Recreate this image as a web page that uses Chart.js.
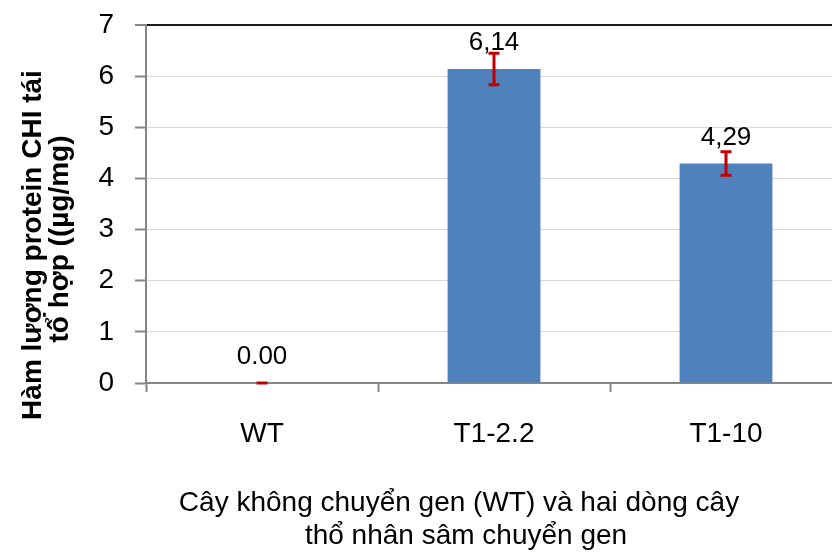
<!DOCTYPE html>
<html lang="vi">
<head>
  <meta charset="UTF-8">
  <title>Hàm lượng protein CHI tái tổ hợp</title>
  <script src="https://cdn.jsdelivr.net/npm/chart.js"></script>
  <style>
    html, body {
      margin: 0;
      padding: 0;
      background: #fff;
      overflow: hidden;
    }
    canvas {
      display: block;
    }
  </style>
</head>
<body>
  <canvas id="proteinChart" width="850" height="554"></canvas>

  <script>
    // values
    const categories = ['WT', 'T1-2.2', 'T1-10'];
    const proteinValues = [0, 6.14, 4.29];
    const errorValues = [0, 0.31, 0.23];
    const valueLabels = ['0.00', '6,14', '4,29'];
    const yTicks = [0, 1, 2, 3, 4, 5, 6, 7];
    const xTitleLines = ['Cây không chuyển gen (WT) và hai dòng cây', 'thổ nhân sâm chuyển gen'];
    const yTitleLines = ['Hàm lượng protein CHI tái', 'tổ hợp ((µg/mg)'];

    const FONT = "'Liberation Sans', Arial, sans-serif";
    const AXIS_GRAY = '#868686';

    // error bars + value labels on top of the bars
    const errorBarPlugin = {
      id: 'errorBars',
      afterDatasetsDraw(chart) {
        const ctx = chart.ctx;
        const yScale = chart.scales.y;
        const meta = chart.getDatasetMeta(0);
        ctx.save();
        meta.data.forEach((bar, i) => {
          const v = proteinValues[i];
          const e = errorValues[i];
          const x = bar.x;
          const yTop = yScale.getPixelForValue(v + e);
          const yBot = yScale.getPixelForValue(v - e);
          ctx.strokeStyle = '#C00000';
          ctx.lineWidth = 3;
          ctx.beginPath();
          if (e > 0) {
            ctx.moveTo(x, yTop);
            ctx.lineTo(x, yBot);
          }
          ctx.moveTo(x - 5.5, yTop);
          ctx.lineTo(x + 5.5, yTop);
          ctx.moveTo(x - 5.5, yBot);
          ctx.lineTo(x + 5.5, yBot);
          ctx.stroke();

          ctx.fillStyle = '#000';
          ctx.font = '26px ' + FONT;
          ctx.textAlign = 'center';
          ctx.textBaseline = 'middle';
          ctx.fillText(valueLabels[i], x, yScale.getPixelForValue(v) - 26);
        });
        ctx.restore();
      }
    };

    // axis titles, placed like the original (not centred on the plot)
    const axisTitlePlugin = {
      id: 'axisTitles',
      afterDraw(chart) {
        const ctx = chart.ctx;
        ctx.save();
        ctx.fillStyle = '#000';
        ctx.textAlign = 'center';
        ctx.textBaseline = 'middle';

        ctx.font = '28px ' + FONT;
        ctx.fillText(xTitleLines[0], 459, 503);
        ctx.fillText(xTitleLines[1], 466, 536);

        ctx.font = 'bold 28px ' + FONT;
        ctx.translate(33, 245);
        ctx.rotate(-Math.PI / 2);
        ctx.fillText(yTitleLines[0], 0, 0);
        ctx.fillText(yTitleLines[1], 6, 27);
        ctx.restore();
      }
    };

    const ctx = document.getElementById('proteinChart').getContext('2d');
    new Chart(ctx, {
      type: 'bar',
      data: {
        labels: categories,
        datasets: [{
          data: proteinValues,
          backgroundColor: '#4F81BD',
          borderWidth: 0,
          barPercentage: 0.4,
          categoryPercentage: 1.0
        }]
      },
      plugins: [errorBarPlugin, axisTitlePlugin],
      options: {
        responsive: false,
        animation: false,
        devicePixelRatio: 1,
        layout: {
          padding: { left: 0, right: 8, top: 25, bottom: 0 }
        },
        plugins: {
          legend: { display: false },
          tooltip: { enabled: false }
        },
        scales: {
          x: {
            afterFit(scale) {
              scale.height = 171;
              scale.paddingLeft = 0;
              scale.paddingRight = 0;
            },
            grid: {
              offset: true,
              drawOnChartArea: false,
              tickLength: 9,
              tickColor: AXIS_GRAY,
              tickWidth: 2
            },
            border: { color: AXIS_GRAY, width: 2 },
            ticks: {
              color: '#000',
              padding: 25,
              font: { family: FONT, size: 28 }
            }
          },
          y: {
            min: 0,
            max: 7,
            afterFit(scale) {
              scale.width = 146;
              scale.paddingTop = 0;
              scale.paddingBottom = 0;
            },
            afterBuildTicks(scale) {
              scale.ticks = yTicks.map(v => ({ value: v }));
            },
            grid: {
              color: c => (c.tick && c.tick.value === 7) ? '#1a1a1a' : '#D9D9D9',
              lineWidth: c => (c.tick && c.tick.value === 7) ? 2 : 1,
              tickLength: 11,
              tickColor: AXIS_GRAY,
              tickWidth: 2
            },
            border: { color: AXIS_GRAY, width: 2 },
            ticks: {
              color: '#000',
              padding: 21,
              font: { family: FONT, size: 28 }
            }
          }
        }
      }
    });
  </script>
</body>
</html>
